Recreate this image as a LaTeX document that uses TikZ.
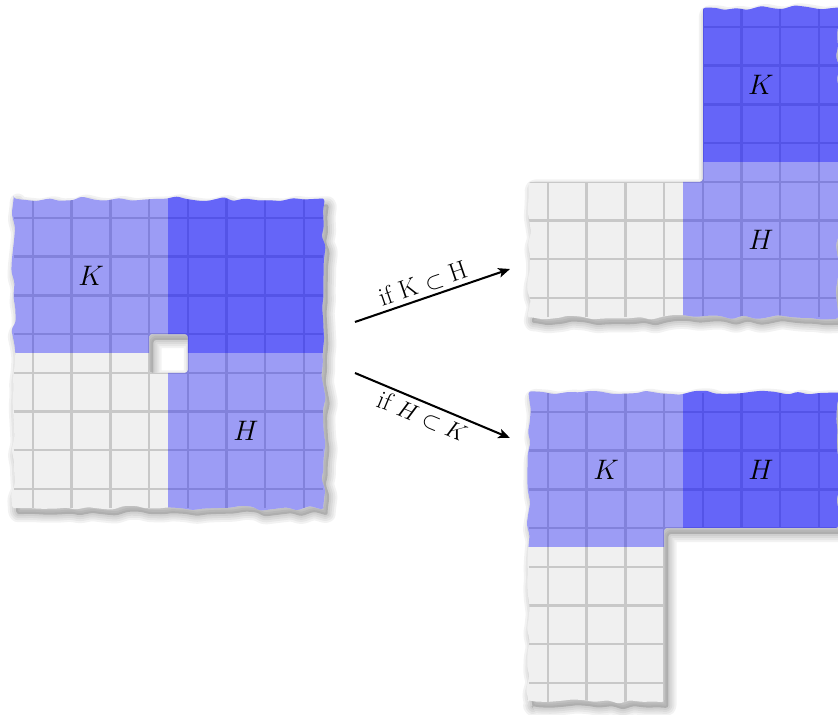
\documentclass[tikz,border=0pt]{standalone}
\usepackage{amsmath,amssymb}
\usepackage{tikz}
\usetikzlibrary{arrows.meta,decorations.pathmorphing}
\definecolor{tpgray}{HTML}{F0F0F0}
\definecolor{tpline}{HTML}{C8C8C8}
\definecolor{tpblue}{HTML}{0000FF}
\tikzset{
 torn/.style={decoration={random steps, segment length=0.3cm, amplitude=0.065cm}},
 sheet/.style={fill=tpgray, rounded corners=0.07cm, even odd rule},
 sheetclip/.style={rounded corners=0.07cm, even odd rule},
 sheetshadow/.style={fill=black, fill opacity=0.16, rounded corners=0.07cm,
 even odd rule, shift={(0.11,0.15)}},
 shadowedge/.style={draw=black, draw opacity=0.05, rounded corners=0.07cm,
 line join=round, shift={(0.11,0.15)}},
 gridline/.style={draw=tpline, line width=1.8pt, sharp corners},
 lightpart/.style={fill=tpblue, fill opacity=0.35, sharp corners},
 darkpart/.style={fill=tpblue, fill opacity=0.575, sharp corners},
 setlabel/.style={font=\huge, inner sep=0pt},
 cond/.style={font=\fontsize{19}{23}\selectfont, sloped, inner sep=2.5pt},
 maparrow/.style={-{Stealth[length=8.5pt, width=7pt, inset=2pt]}, line width=1.5pt},
}
% sheet outlines, torn where the paper was ripped, straight where it was cut
\newcommand{\leftsheet}{decorate[torn]{(-0.5,-0.5) -- (7.5,-0.5) -- (7.5,7.5)
 -- (-0.5,7.5) -- (-0.5,-0.5)} -- cycle (3,3) rectangle (4,4)}
\newcommand{\topsheet}{(4,4) -- (4,-0.5) decorate[torn]{-- (7.5,-0.5)
 -- (7.5,7.5) -- (-0.5,7.5) -- (-0.5,4)} -- cycle}
\newcommand{\bottomsheet}{(3,3) -- (3,7.5) decorate[torn]{-- (-0.5,7.5)
 -- (-0.5,-0.5) -- (7.5,-0.5) -- (7.5,3)} -- cycle}

\begin{document}
\begin{tikzpicture}
\useasboundingbox (0,0) rectangle (21.654,-18.475);

% -- Left sheet: K on top, H on the right, hole in the middle --
\begin{scope}[shift={(0.853,-5.633)}, y=-1cm]
  \foreach \w in {12,9,6,3} {
    \pgfmathsetseed{17}
    \draw[shadowedge, line width=\w pt] \leftsheet;
  }
  \pgfmathsetseed{17}
  \fill[sheetshadow] \leftsheet;
  \pgfmathsetseed{17}
  \fill[sheet] \leftsheet;
  \begin{scope}[sheetclip]
    \pgfmathsetseed{17}
    \clip \leftsheet;
    \draw[gridline] (-0.5,-0.5) grid (7.5,7.5);
    \fill[lightpart] (-1,-1) rectangle (8,3.5);
    \fill[lightpart] (3.5,-1) rectangle (8,8);
  \end{scope}
  \node[setlabel] (kLeft) at (1.5,1.5) {$K$};
  \node[setlabel] (hLeft) at (5.5,5.5) {$H$};
\end{scope}

% -- Top right sheet --
\begin{scope}[shift={(14.160,-0.698)}, y=-1cm]
  \foreach \w in {12,9,6,3} {
    \pgfmathsetseed{5}
    \draw[shadowedge, line width=\w pt] \topsheet;
  }
  \pgfmathsetseed{5}
  \fill[sheetshadow] \topsheet;
  \pgfmathsetseed{5}
  \fill[sheet] \topsheet;
  \begin{scope}[sheetclip]
    \pgfmathsetseed{5}
    \clip \topsheet;
    \draw[gridline] (-0.5,-0.5) grid (7.5,7.5);
    \fill[darkpart] (4,-1) rectangle (8,3.5);
    \fill[lightpart] (3.5,3.5) rectangle (8,8);
  \end{scope}
  \node[setlabel] (kTop) at (5.5,1.5) {$K$};
  \node[setlabel] (hTop) at (5.5,5.5) {$H$};
\end{scope}

% -- Bottom right sheet --
\begin{scope}[shift={(14.160,-10.646)}, y=-1cm]
  \foreach \w in {12,9,6,3} {
    \pgfmathsetseed{9}
    \draw[shadowedge, line width=\w pt] \bottomsheet;
  }
  \pgfmathsetseed{9}
  \fill[sheetshadow] \bottomsheet;
  \pgfmathsetseed{9}
  \fill[sheet] \bottomsheet;
  \begin{scope}[sheetclip]
    \pgfmathsetseed{9}
    \clip \bottomsheet;
    \draw[gridline] (-0.5,-0.5) grid (7.5,7.5);
    \fill[lightpart] (-1,-1) rectangle (3.5,3.5);
    \fill[darkpart] (3.5,-1) rectangle (8,3);
  \end{scope}
  \node[setlabel] (kBottom) at (1.5,1.5) {$K$};
  \node[setlabel] (hBottom) at (5.5,1.5) {$H$};
\end{scope}

% Arrows between the sheets
\coordinate (upFrom) at (9.173,-8.320);
\coordinate (upTo)   at (13.178,-6.951);
\coordinate (dnFrom) at (9.173,-9.638);
\coordinate (dnTo)   at (13.178,-11.318);

\draw[maparrow] (upFrom) -- node[cond, above, pos=0.47] (ifKH)
  {if K $\subset$ H} (upTo);
\draw[maparrow] (dnFrom) -- node[cond, below, pos=0.47] (ifHK)
  {if $H\subset K$} (dnTo);

\end{tikzpicture}
\end{document}
